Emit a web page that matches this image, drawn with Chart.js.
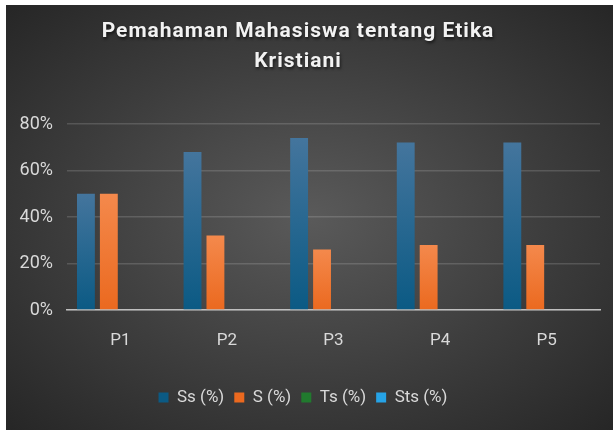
<!DOCTYPE html>
<html>
<head>
<meta charset="utf-8">
<script src="https://cdn.jsdelivr.net/npm/chart.js@4/dist/chart.umd.min.js"></script>
<style>
  html, body { margin: 0; padding: 0; background: #fff; }
  #box {
    position: absolute; left: 6px; top: 5px; width: 607px; height: 425px;
    background: radial-gradient(ellipse at 50% 50%, #5a5a5a 0%, #3d3d3d 55%, #262626 100%);
  }
  #title {
    position: absolute; left: 0; top: 10px; width: 584px; text-align: center;
    font: bold 21px Roboto, "DejaVu Sans", sans-serif; letter-spacing: 1px;
    line-height: 30px; color: #f2f2f2; text-shadow: 1px 2px 3px rgba(0,0,0,0.6);
  }
  #chart { position: absolute; left: 0; top: 0; }
</style>
</head>
<body>
<div id="box">
  <canvas id="chart" width="607" height="425"></canvas>
  <div id="title">Pemahaman Mahasiswa tentang Etika<br>Kristiani</div>
</div>
<script>
// Data
const kategori = ['P1', 'P2', 'P3', 'P4', 'P5'];
const ss = [50, 68, 74, 72, 72];
const s = [50, 32, 26, 28, 28];
const ts = [0, 0, 0, 0, 0];
const sts = [0, 0, 0, 0, 0];
const yTicks = [0, 20, 40, 60, 80];

// gradien tiap batang dari atas ke bawah
function barGrad(top, bottom, flat) {
    return function (ctx) {
        const chart = ctx.chart;
        const y = chart.scales.y;
        if (!chart.chartArea || !y || ctx.raw === undefined) return flat;
        const y0 = y.getPixelForValue(ctx.raw);
        const y1 = y.getPixelForValue(0);
        if (!isFinite(y0) || y1 - y0 < 1) return flat;
        const g = chart.ctx.createLinearGradient(0, y0, 0, y1);
        g.addColorStop(0, top);
        g.addColorStop(1, bottom);
        return g;
    };
}

const ctx = document.getElementById('chart').getContext('2d');
new Chart(ctx, {
    type: 'bar',
    data: {
        labels: kategori,
        datasets: [
            { label: 'Ss (%)', data: ss, backgroundColor: barGrad('#44759d', '#0b5a84', '#1f6590') },
            { label: 'S (%)', data: s, backgroundColor: barGrad('#f4894c', '#eb691f', '#ef7533') },
            { label: 'Ts (%)', data: ts, backgroundColor: '#217a2e' },
            { label: 'Sts (%)', data: sts, backgroundColor: '#26a3e6' }
        ]
    },
    options: {
        responsive: false,
        animation: false,
        layout: { padding: { top: 119, left: 0, right: 13, bottom: 14 } },
        datasets: { bar: { categoryPercentage: 0.86, barPercentage: 0.78 } },
        scales: {
            x: {
                grid: { display: false, drawTicks: false },
                border: { color: '#bfbfbf', width: 1.5 },
                ticks: { color: '#d9d9d9', font: { family: 'Roboto', size: 17 }, padding: 21 },
                afterFit: function (scale) { scale.height = 69; }
            },
            y: {
                min: 0,
                max: 80,
                afterBuildTicks: function (scale) { scale.ticks = yTicks.map(v => ({ value: v })); },
                grid: { color: 'rgba(255,255,255,0.15)', lineWidth: 1.5, drawTicks: false },
                border: { display: false },
                ticks: {
                    color: '#d9d9d9', font: { family: 'Roboto', size: 18 }, padding: 14,
                    callback: v => v + '%'
                },
                afterFit: function (scale) { scale.width = 61; }
            }
        },
        plugins: {
            legend: {
                position: 'bottom',
                labels: {
                    color: '#d9d9d9', font: { family: 'Roboto', size: 17 },
                    boxWidth: 10, boxHeight: 10, padding: 10
                }
            },
            title: { display: false },
            tooltip: { enabled: false }
        }
    }
});
</script>
</body>
</html>
